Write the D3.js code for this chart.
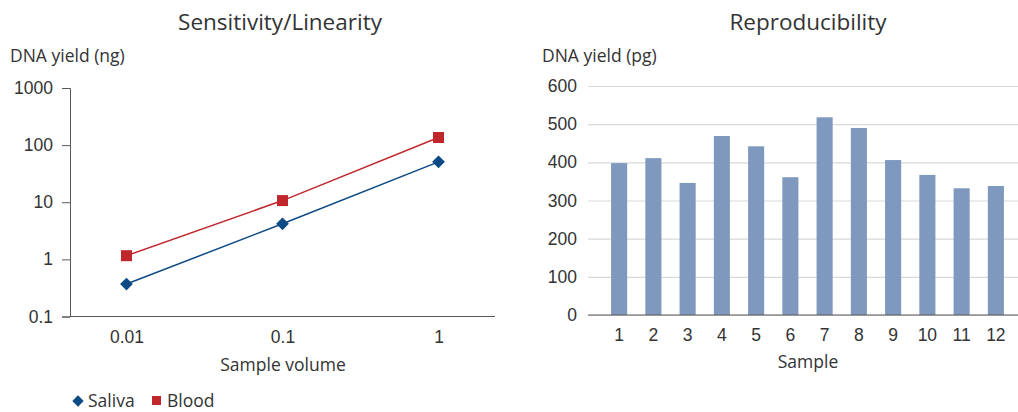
<!DOCTYPE html>
<html>
<head>
<meta charset="utf-8">
<script src="https://cdn.jsdelivr.net/npm/d3@7"></script>
<style>
  html, body { margin: 0; padding: 0; background: #fff; }
  svg { display: block; font-family: "Open Sans", "Lato", sans-serif; }
</style>
</head>
<body>
<svg id="chart" width="1018" height="412"></svg>
<script>
// left chart data
const volumes = ['0.01', '0.1', '1'];
const saliva = [0.37, 4.2, 51];
const blood = [1.16, 10.7, 136];
const logTicks = [0.1, 1, 10, 100, 1000];

// right chart data
const samples = ['1', '2', '3', '4', '5', '6', '7', '8', '9', '10', '11', '12'];
const yields = [398, 411, 346, 469, 442, 361, 518, 490, 406, 367, 332, 338];
const linTicks = [0, 100, 200, 300, 400, 500, 600];

const TEXT = '#333';
const AXIS = '#595959';
const RED = '#c0272d';
const BLUE = '#0b4a85';
const BAR = '#7f99be';
const FS = 17.5;

const svg = d3.select('#chart');

// ---------- Sensitivity/Linearity ----------
const left = svg.append('g');
const x1 = d3.scalePoint().domain(volumes).range([70, 495]).padding(0.362);
const y1 = d3.scaleLog().domain([0.1, 1000]).range([316.5, 88]);

left.append('text').attr('x', 280).attr('y', 30).attr('text-anchor', 'middle')
  .attr('font-size', 22.5).attr('fill', TEXT).text('Sensitivity/Linearity');
left.append('text').attr('x', 10).attr('y', 62).attr('font-size', FS)
  .attr('fill', TEXT).text('DNA yield (ng)');

const ly = left.append('g').attr('transform', 'translate(70,0)')
  .call(d3.axisLeft(y1).tickValues(logTicks).tickFormat(d3.format('~g')).tickSize(8).tickPadding(9));
ly.select('.domain').attr('stroke', AXIS);
ly.selectAll('.tick line').attr('stroke', AXIS);
ly.selectAll('.tick text').attr('font-size', FS).attr('fill', TEXT).attr('font-family', null);

const lx = left.append('g').attr('transform', 'translate(0,316.5)')
  .call(d3.axisBottom(x1).tickSize(0).tickPadding(14));
lx.select('.domain').attr('stroke', AXIS).attr('d', 'M70,0H495');
lx.selectAll('.tick text').attr('font-size', FS).attr('fill', TEXT).attr('font-family', null);

left.append('text').attr('x', 283).attr('y', 371).attr('text-anchor', 'middle')
  .attr('font-size', FS).attr('fill', TEXT).text('Sample volume');

const line = d3.line().x((d, i) => x1(volumes[i])).y(d => y1(d));
left.append('path').datum(saliva).attr('d', line).attr('fill', 'none')
  .attr('stroke', BLUE).attr('stroke-width', 1.5);
left.append('path').datum(blood).attr('d', line).attr('fill', 'none')
  .attr('stroke', RED).attr('stroke-width', 1.5);

left.selectAll('.sal').data(saliva).join('path')
  .attr('transform', (d, i) => `translate(${x1(volumes[i])},${y1(d)}) rotate(45)`)
  .attr('d', 'M-4.5,-4.5H4.5V4.5H-4.5Z').attr('fill', BLUE);
left.selectAll('.bld').data(blood).join('rect')
  .attr('x', (d, i) => x1(volumes[i]) - 5.5).attr('y', d => y1(d) - 5.5)
  .attr('width', 11).attr('height', 11).attr('fill', RED);

// legend
const lg = left.append('g');
lg.append('path').attr('transform', 'translate(78,401) rotate(45)')
  .attr('d', 'M-4,-4H4V4H-4Z').attr('fill', BLUE);
lg.append('text').attr('x', 88).attr('y', 407).attr('font-size', FS).attr('fill', TEXT).text('Saliva');
lg.append('rect').attr('x', 152).attr('y', 396).attr('width', 9).attr('height', 9).attr('fill', RED);
lg.append('text').attr('x', 167).attr('y', 407).attr('font-size', FS).attr('fill', TEXT).text('Blood');

// ---------- Reproducibility ----------
const right = svg.append('g');
const x2 = d3.scaleBand().domain(samples).range([602, 1013]).paddingInner(0.53).paddingOuter(0.265);
const y2 = d3.scaleLinear().domain([0, 600]).range([315, 86]);

right.append('text').attr('x', 808).attr('y', 30).attr('text-anchor', 'middle')
  .attr('font-size', 22.5).attr('fill', TEXT).text('Reproducibility');
right.append('text').attr('x', 542).attr('y', 62).attr('font-size', FS)
  .attr('fill', TEXT).text('DNA yield (pg)');

const ry = right.append('g').attr('transform', 'translate(588,0)')
  .call(d3.axisLeft(y2).tickValues(linTicks).tickSize(-430).tickPadding(11));
ry.select('.domain').remove();
ry.selectAll('.tick line').attr('stroke', '#d9d9d9').attr('stroke-width', 1.2);
ry.selectAll('.tick text').attr('font-size', FS).attr('fill', TEXT).attr('font-family', null);

right.selectAll('.bar').data(yields).join('rect')
  .attr('x', (d, i) => x2(samples[i])).attr('y', d => y2(d))
  .attr('width', x2.bandwidth()).attr('height', d => y2(0) - y2(d)).attr('fill', BAR);

const rx = right.append('g').attr('transform', 'translate(0,315)')
  .call(d3.axisBottom(x2).tickSize(0).tickPadding(14));
rx.select('.domain').attr('stroke', AXIS).attr('d', 'M588,0H1018');
rx.selectAll('.tick text').attr('font-size', FS).attr('fill', TEXT).attr('font-family', null);

right.append('text').attr('x', 808).attr('y', 368).attr('text-anchor', 'middle')
  .attr('font-size', FS).attr('fill', TEXT).text('Sample');
</script>
</body>
</html>
